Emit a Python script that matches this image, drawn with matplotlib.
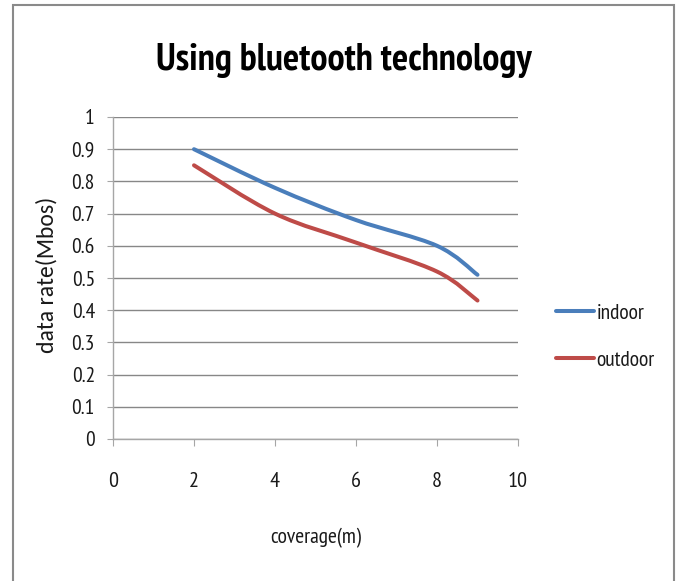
import matplotlib
matplotlib.use("Agg")
import matplotlib.pyplot as plt
from matplotlib.path import Path
from matplotlib.patches import PathPatch, Rectangle
from matplotlib.lines import Line2D
import numpy as np

# Data
coverage = [2, 4, 6, 8, 9]
indoor = [0.90, 0.78, 0.68, 0.60, 0.51]
outdoor = [0.85, 0.70, 0.61, 0.52, 0.43]
series_names = ["indoor", "outdoor"]
colors = ["#4A7EBB", "#BE4B48"]
x_ticks = [0, 2, 4, 6, 8, 10]
y_ticks = [0, 0.1, 0.2, 0.3, 0.4, 0.5, 0.6, 0.7, 0.8, 0.9, 1]
title = "Using bluetooth technology"
x_label = "coverage(m)"
y_label = "data rate(Mbos)"

NARROW = ["PT Sans Narrow", "Carlito", "DejaVu Sans"]
ROTATED = ["Carlito", "DejaVu Sans"]
plt.rcParams["font.family"] = NARROW


def smooth_path(xs, ys):
    """Cubic Bezier path through the points (Catmull-Rom style smoothing)."""
    pts = np.column_stack([xs, ys]).astype(float)
    n = len(pts)
    verts = [pts[0]]
    codes = [Path.MOVETO]
    for i in range(n - 1):
        p0 = pts[i - 1] if i > 0 else pts[i]
        p1 = pts[i]
        p2 = pts[i + 1]
        p3 = pts[i + 2] if i + 2 < n else pts[i + 1]
        c1 = p1 + (p2 - p0) / 6.0
        c2 = p2 - (p3 - p1) / 6.0
        verts += [c1, c2, p2]
        codes += [Path.CURVE4] * 3
    return Path(verts, codes)


fig = plt.figure(figsize=(6.8, 5.81), dpi=100)
fig.patch.set_facecolor("white")

# Outer chart border
fig.add_artist(Rectangle((13 / 680, -0.01), (674 - 13) / 680, 1 - 5 / 581 + 0.01,
                         transform=fig.transFigure, fill=False,
                         edgecolor="#8a8a8a", linewidth=1.5))

ax = fig.add_axes([113 / 680, 1 - 439 / 581, (518 - 113) / 680, (439 - 117) / 581])
ax.set_xlim(0, 10)
ax.set_ylim(0, 1)

for ys, c in zip([indoor, outdoor], colors):
    ax.add_patch(PathPatch(smooth_path(coverage, ys), facecolor="none",
                           edgecolor=c, linewidth=2.9, capstyle="round",
                           joinstyle="round", zorder=3))

ax.set_xticks(x_ticks)
ax.set_yticks(y_ticks)
ax.set_yticklabels([f"{v:g}" for v in y_ticks], fontsize=15.5)
ax.set_xticklabels([str(v) for v in x_ticks], fontsize=16)

ax.grid(axis="y", color="#878787", linewidth=1.0)
ax.grid(axis="x", visible=False)
ax.set_axisbelow(True)
for s in ["top", "right"]:
    ax.spines[s].set_visible(False)
for s in ["left", "bottom"]:
    ax.spines[s].set_color("#a6a6a6")
    ax.spines[s].set_linewidth(1.0)
ax.tick_params(axis="y", direction="out", length=4, color="#a6a6a6", pad=9,
               labelcolor="#1a1a1a")
ax.tick_params(axis="x", direction="out", length=5, color="#a6a6a6", pad=19,
               labelcolor="#1a1a1a")

fig.text(344 / 680, 1 - 70 / 581, title, ha="center", va="baseline",
         fontweight="bold", fontsize=27.5, color="black")
fig.text(316 / 680, 1 - 538 / 581, x_label, ha="center", va="center",
         fontsize=15.5, color="#1a1a1a")
fig.text(47 / 680, 1 - 275 / 581, y_label, ha="center", va="center",
         rotation=90, fontfamily=ROTATED, fontsize=17, color="#1a1a1a")

handles = [Line2D([], [], color=c, linewidth=2.9, solid_capstyle="round")
           for c in colors]
leg = fig.legend(handles, series_names, loc="center left",
                 bbox_to_anchor=(556 / 680, 1 - 336.5 / 581), frameon=False,
                 prop={"size": 15.5}, handlelength=1.75,
                 handletextpad=0.12, labelspacing=1.3, borderpad=0,
                 borderaxespad=0)
for t in leg.get_texts():
    t.set_color("#1a1a1a")

fig.savefig("out.png", dpi=100)
